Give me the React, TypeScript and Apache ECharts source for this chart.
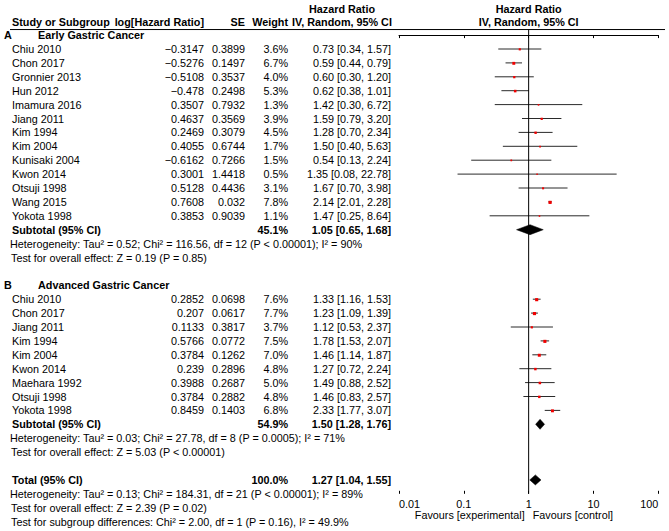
import React, { useEffect, useRef } from "react";
import * as echarts from "echarts";

// ---------- data ----------
const earlyStudies = ["Chiu 2010", "Chon 2017", "Gronnier 2013", "Hun 2012", "Imamura 2016", "Jiang 2011", "Kim 1994", "Kim 2004", "Kunisaki 2004", "Kwon 2014", "Otsuji 1998", "Wang 2015", "Yokota 1998"];
const earlyLogHR = [-0.3147, -0.5276, -0.5108, -0.478, 0.3507, 0.4637, 0.2469, 0.4055, -0.6162, 0.3001, 0.5128, 0.7608, 0.3853];
const earlySE = [0.3899, 0.1497, 0.3537, 0.2498, 0.7932, 0.3569, 0.3079, 0.6744, 0.7266, 1.4418, 0.4436, 0.032, 0.9039];
const earlyWeight = [3.6, 6.7, 4.0, 5.3, 1.3, 3.9, 4.5, 1.7, 1.5, 0.5, 3.1, 7.8, 1.1];
const earlyHR = [0.73, 0.59, 0.6, 0.62, 1.42, 1.59, 1.28, 1.5, 0.54, 1.35, 1.67, 2.14, 1.47];
const earlyLo = [0.34, 0.44, 0.3, 0.38, 0.3, 0.79, 0.7, 0.4, 0.13, 0.08, 0.7, 2.01, 0.25];
const earlyHi = [1.57, 0.79, 1.2, 1.01, 6.72, 3.2, 2.34, 5.63, 2.24, 22.78, 3.98, 2.28, 8.64];

const advStudies = ["Chiu 2010", "Chon 2017", "Jiang 2011", "Kim 1994", "Kim 2004", "Kwon 2014", "Maehara 1992", "Otsuji 1998", "Yokota 1998"];
const advLogHR = [0.2852, 0.207, 0.1133, 0.5766, 0.3784, 0.239, 0.3988, 0.3784, 0.8459];
const advSE = [0.0698, 0.0617, 0.3817, 0.0772, 0.1262, 0.2896, 0.2687, 0.2882, 0.1403];
const advWeight = [7.6, 7.7, 3.7, 7.5, 7.0, 4.8, 5.0, 4.8, 6.8];
const advHR = [1.33, 1.23, 1.12, 1.78, 1.46, 1.27, 1.49, 1.46, 2.33];
const advLo = [1.16, 1.09, 0.53, 1.53, 1.14, 0.72, 0.88, 0.83, 1.77];
const advHi = [1.53, 1.39, 2.37, 2.07, 1.87, 2.24, 2.52, 2.57, 3.07];

const earlySubtotal = { weight: 45.1, est: 1.05, lo: 0.65, hi: 1.68 };
const advSubtotal = { weight: 54.9, est: 1.5, lo: 1.28, hi: 1.76 };
const overallTotal = { weight: 100.0, est: 1.27, lo: 1.04, hi: 1.55 };

const earlyHet = "Heterogeneity: Tau² = 0.52; Chi² = 116.56, df = 12 (P < 0.00001); I² = 90%";
const earlyTest = "Test for overall effect: Z = 0.19 (P = 0.85)";
const advHet = "Heterogeneity: Tau² = 0.03; Chi² = 27.78, df = 8 (P = 0.0005); I² = 71%";
const advTest = "Test for overall effect: Z = 5.03 (P < 0.00001)";
const totHet = "Heterogeneity: Tau² = 0.13; Chi² = 184.31, df = 21 (P < 0.00001); I² = 89%";
const totTest = "Test for overall effect: Z = 2.39 (P = 0.02)";
const totSub = "Test for subgroup differences: Chi² = 2.00, df = 1 (P = 0.16), I² = 49.9%";

const axisTicks = [0.01, 0.1, 1, 10, 100];
const axisTickLabels = ["0.01", "0.1", "1", "10", "100"];
const favoursLeft = "Favours [experimental]";
const favoursRight = "Favours [control]";

// ---------- layout ----------
const W = 669;
const H = 531;
const ROW_H = 13.9;
const ROW1_Y = 49;
const rowY = (r: number) => ROW1_Y + (r - 1) * ROW_H;
const Y_MIN = -0.4;
const Y_MAX = 33;
const PLOT_L = 399;
const PLOT_R = 658.3;
const GRID_TOP = rowY(Y_MIN);
const GRID_BOTTOM = rowY(Y_MAX);
const X_ONE = PLOT_L + (PLOT_R - PLOT_L) / 2;

const EARLY_HEAD = 0;
const EARLY_START = 1;
const EARLY_SUB = EARLY_START + earlyStudies.length;
const ADV_HEAD = EARLY_SUB + 4;
const ADV_START = ADV_HEAD + 1;
const ADV_SUB = ADV_START + advStudies.length;
const TOTAL_ROW = ADV_SUB + 4;

const FONT = "'Liberation Sans', Arial, sans-serif";
const FS = 10.8;

const COL_NAME = 12;
const COL_LOG = 204;
const COL_SE = 245;
const COL_W = 288;
const COL_HR = 391;
const COL_HR_HEAD = 342;

const fmtLog = (v: number) => (v < 0 ? "\u2212" + String(Math.abs(v)) : String(v));
const fmtCI = (e: number, l: number, h: number) => `${e.toFixed(2)} [${l.toFixed(2)}, ${h.toFixed(2)}]`;

function txt(x: number, y: number, text: string, align = "left", bold = false): any {
  return {
    type: "text",
    x,
    y,
    silent: true,
    style: {
      text,
      fill: "#000",
      fontSize: FS,
      fontFamily: FONT,
      fontWeight: bold ? "bold" : "normal",
      align,
      textAlign: align,
      verticalAlign: "middle",
      textVerticalAlign: "middle",
    },
  };
}

function buildGraphics(): any[] {
  const g: any[] = [];
  g.push(txt(COL_HR_HEAD, rowY(-1.9), "Hazard Ratio", "center", true));
  g.push(txt(X_ONE, rowY(-1.9), "Hazard Ratio", "center", true));
  const hy = rowY(-0.95);
  g.push(txt(COL_NAME, hy, "Study or Subgroup", "left", true));
  g.push(txt(COL_LOG, hy, "log[Hazard Ratio]", "right", true));
  g.push(txt(COL_SE, hy, "SE", "right", true));
  g.push(txt(COL_W, hy, "Weight", "right", true));
  g.push(txt(COL_HR_HEAD, hy, "IV, Random, 95% CI", "center", true));
  g.push(txt(X_ONE, hy, "IV, Random, 95% CI", "center", true));
  g.push({
    type: "line",
    silent: true,
    shape: { x1: 10, y1: GRID_TOP, x2: 665, y2: GRID_TOP },
    style: { stroke: "#000", lineWidth: 1 },
  });

  g.push(txt(4, rowY(EARLY_HEAD), "A", "left", true));
  g.push(txt(38, rowY(EARLY_HEAD), "Early Gastric Cancer", "left", true));
  earlyStudies.forEach((s, i) => {
    const y = rowY(EARLY_START + i);
    g.push(txt(COL_NAME, y, s));
    g.push(txt(COL_LOG, y, fmtLog(earlyLogHR[i]), "right"));
    g.push(txt(COL_SE, y, String(earlySE[i]), "right"));
    g.push(txt(COL_W, y, earlyWeight[i].toFixed(1) + "%", "right"));
    g.push(txt(COL_HR, y, fmtCI(earlyHR[i], earlyLo[i], earlyHi[i]), "right"));
  });
  let y = rowY(EARLY_SUB);
  g.push(txt(COL_NAME, y, "Subtotal (95% CI)", "left", true));
  g.push(txt(COL_W, y, earlySubtotal.weight.toFixed(1) + "%", "right", true));
  g.push(txt(COL_HR, y, fmtCI(earlySubtotal.est, earlySubtotal.lo, earlySubtotal.hi), "right", true));
  g.push(txt(10, rowY(EARLY_SUB + 1), earlyHet));
  g.push(txt(11, rowY(EARLY_SUB + 2), earlyTest));

  g.push(txt(4, rowY(ADV_HEAD), "B", "left", true));
  g.push(txt(38, rowY(ADV_HEAD), "Advanced Gastric Cancer", "left", true));
  advStudies.forEach((s, i) => {
    const yy = rowY(ADV_START + i);
    g.push(txt(COL_NAME, yy, s));
    g.push(txt(COL_LOG, yy, fmtLog(advLogHR[i]), "right"));
    g.push(txt(COL_SE, yy, String(advSE[i]), "right"));
    g.push(txt(COL_W, yy, advWeight[i].toFixed(1) + "%", "right"));
    g.push(txt(COL_HR, yy, fmtCI(advHR[i], advLo[i], advHi[i]), "right"));
  });
  y = rowY(ADV_SUB);
  g.push(txt(COL_NAME, y, "Subtotal (95% CI)", "left", true));
  g.push(txt(COL_W, y, advSubtotal.weight.toFixed(1) + "%", "right", true));
  g.push(txt(COL_HR, y, fmtCI(advSubtotal.est, advSubtotal.lo, advSubtotal.hi), "right", true));
  g.push(txt(10, rowY(ADV_SUB + 1), advHet));
  g.push(txt(11, rowY(ADV_SUB + 2), advTest));

  y = rowY(TOTAL_ROW);
  g.push(txt(COL_NAME, y, "Total (95% CI)", "left", true));
  g.push(txt(COL_W, y, overallTotal.weight.toFixed(1) + "%", "right", true));
  g.push(txt(COL_HR, y, fmtCI(overallTotal.est, overallTotal.lo, overallTotal.hi), "right", true));
  g.push(txt(10, rowY(TOTAL_ROW + 1), totHet));
  g.push(txt(11, rowY(TOTAL_ROW + 2), totTest));
  g.push(txt(11, rowY(TOTAL_ROW + 3), totSub));

  g.push(txt(X_ONE - 4, GRID_BOTTOM + 21.5, favoursLeft, "right"));
  g.push(txt(X_ONE + 4, GRID_BOTTOM + 21.5, favoursRight, "left"));
  return g;
}

const studyData: number[][] = [
  ...earlyHR.map((v, i) => [v, EARLY_START + i, earlyLo[i], earlyHi[i], earlyWeight[i]]),
  ...advHR.map((v, i) => [v, ADV_START + i, advLo[i], advHi[i], advWeight[i]]),
];
const diamondData: number[][] = [
  [earlySubtotal.est, EARLY_SUB, earlySubtotal.lo, earlySubtotal.hi],
  [advSubtotal.est, ADV_SUB, advSubtotal.lo, advSubtotal.hi],
  [overallTotal.est, TOTAL_ROW, overallTotal.lo, overallTotal.hi],
];

const tickFmt = (v: number) => {
  const e = Math.round(Math.log10(v));
  const idx = axisTicks.findIndex((t) => Math.abs(Math.log10(t) - e) < 1e-6);
  return idx >= 0 ? axisTickLabels[idx] : "";
};

function buildOption(): any {
  const xBase = {
    type: "log",
    logBase: 10,
    min: axisTicks[0],
    max: axisTicks[axisTicks.length - 1],
    gridIndex: 0,
    position: "bottom",
    splitLine: { show: false },
  };
  return {
    animation: false,
    backgroundColor: "#fff",
    textStyle: { fontFamily: FONT },
    grid: {
      left: PLOT_L,
      width: PLOT_R - PLOT_L,
      top: GRID_TOP,
      height: GRID_BOTTOM - GRID_TOP,
      containLabel: false,
    },
    xAxis: [
      {
        ...xBase,
        axisLine: { show: true, lineStyle: { color: "#000", width: 1 } },
        axisTick: { show: true, length: 3, inside: false, lineStyle: { color: "#000" } },
        axisLabel: {
          show: true,
          color: "#000",
          fontSize: FS,
          fontFamily: FONT,
          margin: 5,
          formatter: tickFmt,
          alignMinLabel: "left",
          alignMaxLabel: "right",
        },
      },
      {
        ...xBase,
        axisLine: { show: false },
        axisTick: { show: true, length: 3, inside: true, lineStyle: { color: "#000" } },
        axisLabel: { show: false },
      },
    ],
    yAxis: {
      type: "value",
      min: Y_MIN,
      max: Y_MAX,
      inverse: true,
      show: false,
      splitLine: { show: false },
    },
    series: [
      {
        type: "line",
        name: "no effect",
        xAxisIndex: 0,
        data: [
          [1, Y_MIN],
          [1, Y_MAX],
        ],
        symbol: "none",
        silent: true,
        lineStyle: { color: "#000", width: 1 },
      },
      {
        type: "custom",
        name: "studies",
        xAxisIndex: 0,
        silent: true,
        data: studyData,
        encode: { x: 0, y: 1 },
        renderItem: (params: any, api: any) => {
          const r = api.value(1);
          const c = api.coord([api.value(0), r]);
          const l = api.coord([api.value(2), r]);
          const h = api.coord([api.value(3), r]);
          const s = 1.3 + api.value(4) * 0.24;
          return {
            type: "group",
            children: [
              {
                type: "line",
                shape: { x1: l[0], y1: c[1], x2: h[0], y2: c[1] },
                style: { stroke: "#2a2a2a", lineWidth: 1 },
              },
              {
                type: "rect",
                shape: { x: c[0] - s / 2, y: c[1] - s * 0.35, width: s, height: s },
                style: { fill: "#f00000" },
              },
            ],
          };
        },
      },
      {
        type: "custom",
        name: "pooled",
        xAxisIndex: 0,
        silent: true,
        data: diamondData,
        encode: { x: 0, y: 1 },
        renderItem: (params: any, api: any) => {
          const r = api.value(1);
          const c = api.coord([api.value(0), r]);
          const l = api.coord([api.value(2), r]);
          const h = api.coord([api.value(3), r]);
          const hh = 5;
          return {
            type: "polygon",
            shape: {
              points: [
                [l[0], c[1]],
                [c[0], c[1] - hh],
                [h[0], c[1]],
                [c[0], c[1] + hh],
              ],
            },
            style: { fill: "#000", stroke: "#000", lineWidth: 0.5 },
          };
        },
      },
    ],
    graphic: buildGraphics(),
  };
}

export default function App() {
  const ref = useRef<HTMLDivElement>(null);
  useEffect(() => {
    if (!ref.current) return;
    const chart = echarts.init(ref.current, null, { renderer: "svg" });
    chart.setOption(buildOption());
    return () => chart.dispose();
  }, []);
  return (
    <div
      ref={ref}
      style={{ position: "absolute", left: 0, top: 0, width: W, height: H, background: "#fff" }}
    />
  );
}
